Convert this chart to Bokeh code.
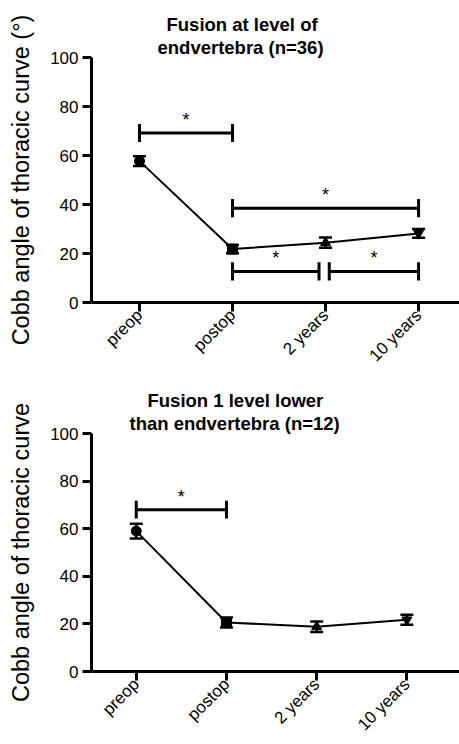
import math
from bokeh.plotting import figure
from bokeh.models import ColumnDataSource, Range1d, FixedTicker, Whisker, TeeHead, Title
from bokeh.layouts import column
from bokeh.embed import file_html
from bokeh.resources import INLINE
from bokeh.core.properties import value

# ---- data ----
categories = ["preop", "postop", "2 years", "10 years"]
markers = ["circle", "square", "triangle", "inverted_triangle"]
top_mean = [57.7, 21.8, 24.4, 28.2]
top_sem = [2.0, 1.7, 2.1, 1.8]
bottom_mean = [59.0, 20.6, 18.8, 21.7]
bottom_sem = [3.1, 2.1, 2.2, 2.1]
y_ticks = [0, 20, 40, 60, 80, 100]

top_title = ["Fusion at level of", "endvertebra (n=36)"]
bottom_title = ["Fusion 1 level lower", "than endvertebra (n=12)"]
top_ylabel = "Cobb angle of thoracic curve (\u00b0)"
bottom_ylabel = "Cobb angle of thoracic curve"

# significance brackets (category index start/end, bracket height)
top_sig_start = [0, 1, 1, 2.04]
top_sig_end = [1, 3, 1.93, 3]
top_sig_y = [69.2, 38.5, 12.7, 12.7]
bottom_sig_start = [0]
bottom_sig_end = [1]
bottom_sig_y = [68.0]

FONT = "Liberation Sans"


def panel(mean, sem, sig_s, sig_e, sig_y, title_lines, title_offsets, ylabel,
          x_range, height, b_left, b_top, b_bottom):
    p = figure(width=459, height=height, output_backend="svg", toolbar_location=None,
               x_range=Range1d(*x_range), y_range=Range1d(0, 100),
               min_border_left=b_left, min_border_right=0, min_border_top=b_top,
               min_border_bottom=b_bottom)
    p.outline_line_color = None
    p.grid.visible = False
    p.background_fill_color = "white"
    p.border_fill_color = "white"

    xs = list(range(len(categories)))
    src = ColumnDataSource(dict(x=xs, y=mean, lo=[m - s for m, s in zip(mean, sem)],
                                hi=[m + s for m, s in zip(mean, sem)], marker=markers))
    p.line("x", "y", source=src, line_color="black", line_width=2)
    w = Whisker(base="x", upper="hi", lower="lo", source=src, dimension="height",
                line_color="black", line_width=2.5,
                upper_head=TeeHead(size=13, line_color="black", line_width=2.5),
                lower_head=TeeHead(size=13, line_color="black", line_width=2.5))
    p.add_layout(w)
    p.scatter("x", "y", source=src, marker="marker", size=10, fill_color="black",
              line_color="black")

    # significance brackets
    bsrc = ColumnDataSource(dict(x0=sig_s, x1=sig_e, y=sig_y,
                                 ylo=[v - 3.7 for v in sig_y], yhi=[v + 3.7 for v in sig_y],
                                 xm=[(a + b) / 2 for a, b in zip(sig_s, sig_e)],
                                 star=["*"] * len(sig_y)))
    p.segment(x0="x0", x1="x1", y0="y", y1="y", source=bsrc, line_color="black", line_width=3)
    p.segment(x0="x0", x1="x0", y0="ylo", y1="yhi", source=bsrc, line_color="black", line_width=3)
    p.segment(x0="x1", x1="x1", y0="ylo", y1="yhi", source=bsrc, line_color="black", line_width=3)
    p.text(x="xm", y="y", text="star", source=bsrc, text_align="center",
           text_baseline="bottom", y_offset=-3, text_font=value(FONT),
           text_font_size="18px", text_color="black")

    # two-line title: the last added sits outermost
    for t, off in reversed(list(zip(title_lines, title_offsets))):
        p.add_layout(Title(text=t, align="left", offset=off, text_font=FONT,
                           text_font_size="18.5px", text_font_style="bold",
                           text_color="black", standoff=0), "above")

    for ax in (p.xaxis[0], p.yaxis[0]):
        ax.axis_line_width = 3
        ax.axis_line_color = "black"
        ax.major_tick_line_width = 3
        ax.major_tick_line_color = "black"
        ax.major_tick_out = 9
        ax.major_tick_in = 0
        ax.minor_tick_line_color = None
        ax.major_label_text_font = FONT
        ax.major_label_text_font_size = "17px"
        ax.major_label_text_color = "black"

    p.xaxis.ticker = FixedTicker(ticks=xs)
    p.xaxis.major_label_overrides = {i: c for i, c in enumerate(categories)}
    p.xaxis.major_label_orientation = math.pi / 4
    p.xaxis.major_label_standoff = 1

    p.yaxis.ticker = FixedTicker(ticks=y_ticks)
    p.yaxis.major_label_standoff = 4
    p.yaxis.axis_label = ylabel
    p.yaxis.axis_label_text_font = FONT
    p.yaxis.axis_label_text_font_size = "23.5px"
    p.yaxis.axis_label_text_font_style = "normal"
    p.yaxis.axis_label_text_color = "black"
    p.yaxis.axis_label_standoff = 13
    return p


p1 = panel(top_mean, top_sem, top_sig_start, top_sig_end, top_sig_y, top_title,
           [75, 66], top_ylabel, (-0.516, 3.44), 375, 91, 57, 73)
p2 = panel(bottom_mean, bottom_sem, bottom_sig_start, bottom_sig_end, bottom_sig_y,
           bottom_title, [56, 38], bottom_ylabel, (-0.496, 3.583), 369, 89, 58, 73)

layout = column(p1, p2, spacing=0)
open("out.html", "w").write(file_html(layout, INLINE))
